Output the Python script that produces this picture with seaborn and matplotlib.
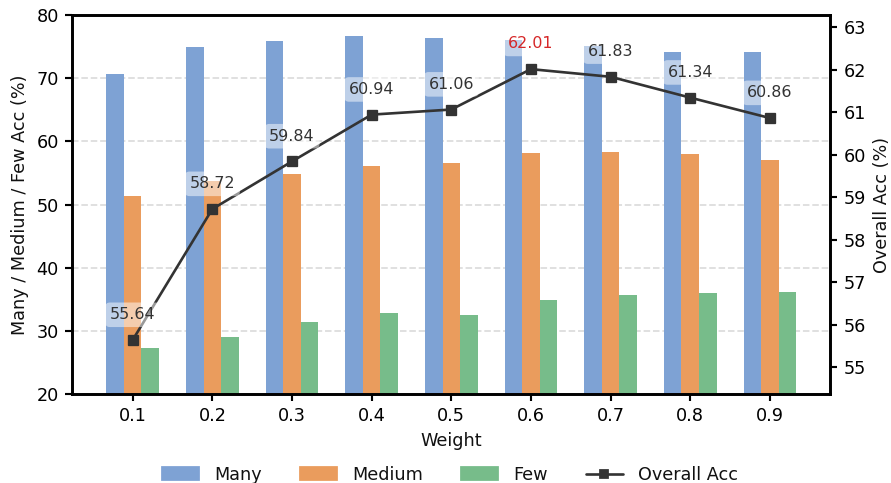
import numpy as np
import pandas as pd
import seaborn as sns
import matplotlib.pyplot as plt
from matplotlib.ticker import MultipleLocator
from matplotlib.patches import Patch
from matplotlib.lines import Line2D

# values
weights = ["0.1", "0.2", "0.3", "0.4", "0.5", "0.6", "0.7", "0.8", "0.9"]
many = [70.7, 75.0, 75.9, 76.6, 76.4, 76.0, 75.1, 74.2, 74.2]
medium = [51.3, 53.7, 54.8, 56.1, 56.6, 58.2, 58.3, 58.0, 57.1]
few = [27.3, 29.0, 31.4, 32.8, 32.5, 34.9, 35.7, 36.0, 36.2]
overall = [55.64, 58.72, 59.84, 60.94, 61.06, 62.01, 61.83, 61.34, 60.86]

groups = ["Many", "Medium", "Few"]
colors = ["#7EA2D4", "#EA9C5D", "#77BC8A"]

DPI = 127.3


def main():
    sns.set_style("ticks", {"axes.edgecolor": "black", "xtick.color": "black",
                            "ytick.color": "black", "text.color": "#111111",
                            "axes.labelcolor": "#111111"})
    plt.rcParams["font.family"] = ["DejaVu Sans"]
    plt.rcParams["font.size"] = 10

    # long-form table for the grouped bars
    df = pd.DataFrame({
        "Weight": weights * 3,
        "Acc": many + medium + few,
        "Group": [g for g in groups for _ in weights],
    })

    fig, ax = plt.subplots(figsize=(891 / DPI, 483 / DPI), dpi=DPI)
    fig.subplots_adjust(left=0.081, right=0.932, top=0.969, bottom=0.184)

    sns.barplot(data=df, x="Weight", y="Acc", hue="Group", hue_order=groups,
                palette=colors, width=0.66, gap=0, errorbar=None,
                saturation=1, ax=ax, legend=False, linewidth=0,
                edgecolor="none")
    ax.set_ylim(20, 80)
    ax.set_axisbelow(True)
    ax.yaxis.grid(True, linestyle="--", color="#dddddd", linewidth=1)
    ax.set_xlabel("Weight", fontsize=10)
    ax.set_ylabel("Many / Medium / Few Acc (%)", fontsize=10)

    # overall accuracy on the right axis
    ax2 = ax.twinx()
    xs = np.arange(len(weights))
    sns.lineplot(x=xs, y=overall, ax=ax2, color="#333333", marker="s",
                 markersize=6, linewidth=1.5, markeredgecolor="#333333")
    span = max(overall) - min(overall)
    ax2.set_ylim(min(overall) - 0.2 * span, max(overall) + 0.2 * span)
    ax2.yaxis.set_major_locator(MultipleLocator(1))
    ax2.set_ylabel("Overall Acc (%)", fontsize=10)
    ax.set_xlim(-0.76, 8.76)

    best = int(np.argmax(overall))
    for i, v in enumerate(overall):
        ax2.annotate(f"{v:.2f}", (xs[i], v), xytext=(0, 10),
                     textcoords="offset points", ha="center", va="bottom",
                     fontsize=9, color="#d62728" if i == best else "#333333",
                     bbox=dict(boxstyle="round,pad=0.3", fc="white",
                               ec="none", alpha=0.5))

    for a in (ax, ax2):
        for s in a.spines.values():
            s.set_linewidth(1.5)
            s.set_color("black")
        a.tick_params(width=1.2, length=4, labelsize=10)

    # legend below the plot
    handles = [Patch(color=c, label=g) for c, g in zip(colors, groups)]
    handles.append(Line2D([], [], color="#333333", marker="s", markersize=5,
                          linewidth=1.5, label="Overall Acc"))
    fig.legend(handles=handles, loc="center", ncol=4, frameon=False,
               bbox_to_anchor=(0.505, 0.017), fontsize=10, columnspacing=2.15,
               handlelength=2.1, handletextpad=0.85)

    fig.savefig("out.png", dpi=DPI)


if __name__ == "__main__":
    main()
